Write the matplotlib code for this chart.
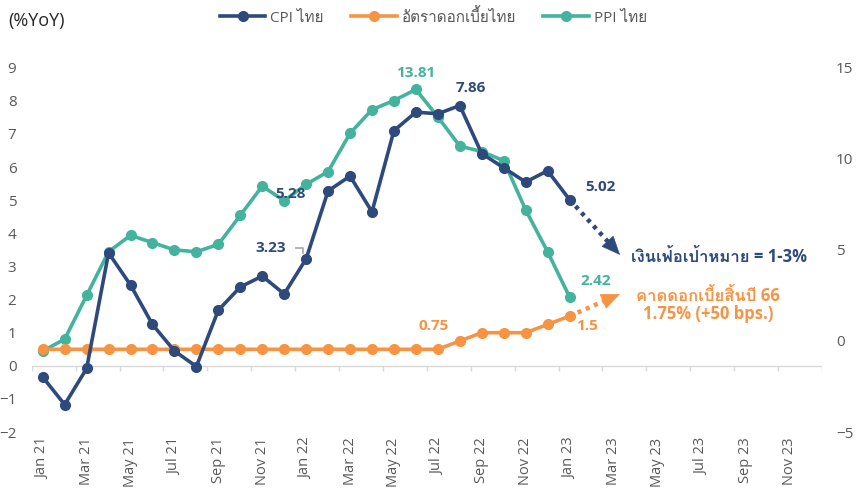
import matplotlib
matplotlib.use("Agg")
import matplotlib.pyplot as plt
from matplotlib import font_manager
from matplotlib.ft2font import FT2Font

# look for a font that can draw Thai
thai_font = None
for f in font_manager.fontManager.ttflist:
    try:
        if 0x0E44 in FT2Font(f.fname).get_charmap():
            thai_font = f.name
            break
    except Exception:
        pass

fams = ["Open Sans"] + ([thai_font] if thai_font else []) + ["DejaVu Sans"]
plt.rcParams["font.family"] = fams

months = []
for yy in ["21", "22", "23"]:
    for m in ["Jan", "Feb", "Mar", "Apr", "May", "Jun", "Jul", "Aug", "Sep", "Oct", "Nov", "Dec"]:
        months.append(m + " " + yy)

cpi = [-0.34, -1.17, -0.08, 3.41, 2.44, 1.25, 0.45, -0.02, 1.68, 2.38, 2.71, 2.17,
       3.23, 5.28, 5.73, 4.65, 7.10, 7.66, 7.61, 7.86, 6.41, 5.98, 5.55, 5.89, 5.02]
rate = [0.5] * 19 + [0.75, 1.0, 1.0, 1.0, 1.25, 1.5]
ppi = [-0.55, 0.1, 2.5, 4.9, 5.8, 5.4, 5.0, 4.9, 5.3, 6.9, 8.5, 7.7,
       8.6, 9.3, 11.4, 12.7, 13.2, 13.81, 12.3, 10.7, 10.4, 9.9, 7.2, 4.9, 2.42]

# where the outlook arrows point (month index, % on left axis)
cpi_target = (26.3, 3.35)
rate_target = (26.3, 2.17)

c_cpi = "#2E4A7D"
c_rate = "#F79443"
c_ppi = "#43B39D"
grey = "#595959"

x = list(range(len(cpi)))

fig, ax = plt.subplots(figsize=(8.58, 4.91), dpi=100)
fig.subplots_adjust(left=0.037, right=0.958, top=0.862, bottom=0.12)
ax2 = ax.twinx()

ax.plot(x, cpi, "o-", color=c_cpi, lw=2.6, ms=7, zorder=4, label="CPI ไทย")
ax.plot(x, rate, "o-", color=c_rate, lw=2.6, ms=7, zorder=3, label="อัตราดอกเบี้ยไทย")
ax2.plot(x, ppi, "o-", color=c_ppi, lw=2.6, ms=7, label="PPI ไทย")

ax.set_ylim(-2, 9)
ax2.set_ylim(-5, 15)
ax.set_xlim(-0.5, len(months) - 0.5)
ax.set_yticks(range(-2, 10))
ax2.set_yticks([-5, 0, 5, 10, 15])

ax.set_xticks(range(0, len(months), 2))
ax.set_xticklabels(months[::2], rotation=90)

for a in (ax, ax2):
    for s in a.spines.values():
        s.set_visible(False)
ax.tick_params(axis="y", length=0, labelsize=11, colors=grey, pad=11)
ax2.tick_params(axis="y", length=0, labelsize=11, colors=grey, pad=10)
ax.tick_params(axis="x", length=0, labelsize=10.5, colors=grey, pad=4)

# category axis line at zero, ticks between every two months
ax.axhline(0, color="#D9D9D9", lw=1, zorder=1)
ax.vlines([i - 0.5 for i in range(0, len(months) + 1, 2)], -0.16, 0,
          color="#D9D9D9", lw=1, zorder=1)
ax.set_zorder(ax2.get_zorder() + 1)
ax.patch.set_visible(False)

# data labels
bold = dict(fontsize=11, fontweight="bold")
ax2.text(17, 14.7, "13.81", color=c_ppi, ha="center", va="center", **bold)
ax.text(19.5, 8.4, "7.86", color=c_cpi, ha="center", va="center", **bold)
ax.text(11.3, 5.18, "5.28", color=c_cpi, ha="center", va="center", **bold)
ax.text(10.4, 3.55, "3.23", color=c_cpi, ha="center", va="center", **bold)
ax.plot([11.55, 11.85, 11.85], [3.57, 3.57, 3.4], color="#A6A6A6", lw=1.2)
ax.text(25.4, 5.4, "5.02", color=c_cpi, ha="center", va="center", **bold)
ax2.text(25.2, 3.3, "2.42", color=c_ppi, ha="center", va="center", **bold)
ax.text(17.8, 1.2, "0.75", color=c_rate, ha="center", va="center", **bold)
ax.text(24.8, 1.2, "1.5", color=c_rate, ha="center", va="center", **bold)


def outlook(start, end, color):
    # dotted stem, then a solid arrow head at the end
    fx = start[0] + 0.9 * (end[0] - start[0])
    fy = start[1] + 0.9 * (end[1] - start[1])
    ax.plot([start[0], fx], [start[1], fy], color=color, lw=3.2,
            ls=(0, (0.9, 1.1)), zorder=2)
    ax.annotate("", xy=end, xytext=(fx, fy),
                arrowprops=dict(arrowstyle="-|>,head_length=0.7,head_width=0.3",
                                color=color, lw=0.5, mutation_scale=18,
                                shrinkA=0, shrinkB=0))


outlook((24, cpi[-1]), cpi_target, c_cpi)
outlook((24, rate[-1]), rate_target, c_rate)
ax.text(26.8, 3.28, "เงินเฟ้อเป้าหมาย = 1-3%", color=c_cpi, ha="left", va="center",
        fontsize=12, fontweight="bold")
ax.text(30.3, 1.84, "คาดดอกเบี้ยสิ้นปี 66\n1.75% (+50 bps.)", color=c_rate,
        ha="center", va="center", linespacing=1.05, fontsize=12, fontweight="bold")

fig.text(0.01, 0.957, "(%YoY)", fontsize=13, color="#262626", ha="left", va="center")

h1, l1 = ax.get_legend_handles_labels()
h2, l2 = ax2.get_legend_handles_labels()
fig.legend(h1 + h2, l1 + l2, loc="center", bbox_to_anchor=(0.505, 0.965), ncol=3,
           frameon=False, fontsize=11, labelcolor=grey, handlelength=3,
           columnspacing=1.8, handletextpad=0.3)

fig.savefig("out.png", dpi=100)
